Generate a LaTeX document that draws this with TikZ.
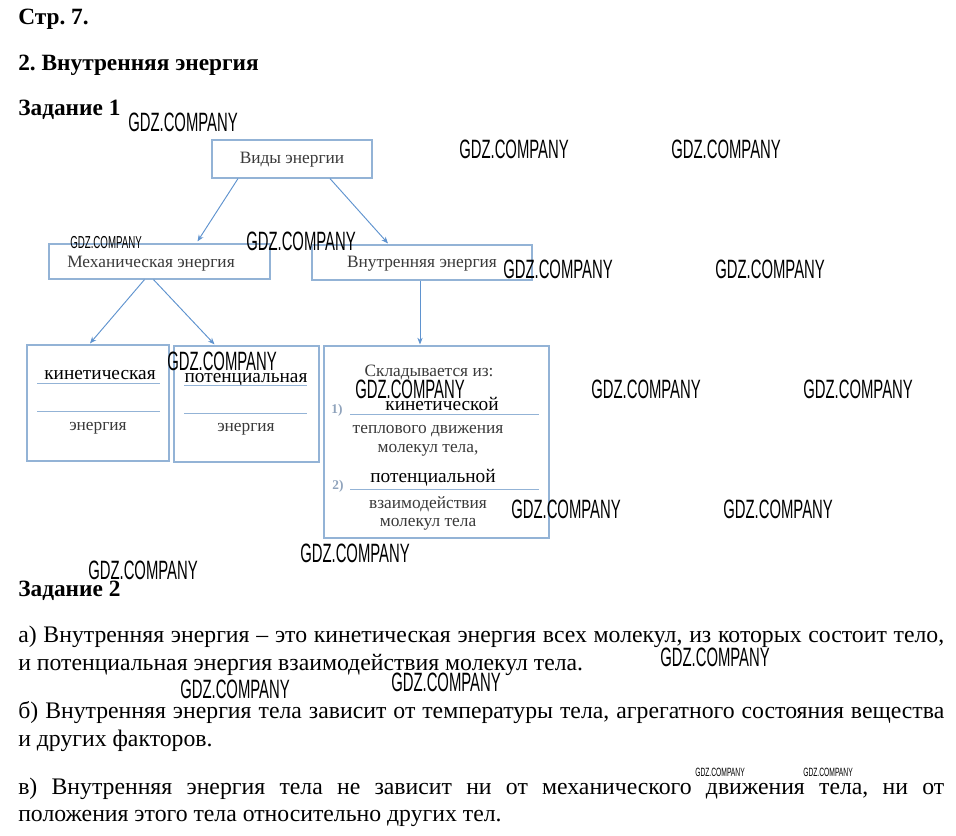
\documentclass[tikz,border=0pt]{standalone}
\usepackage{fontspec}
\setmainfont{Liberation Serif}
\newfontfamily\wmfam[FakeStretch=0.56]{Liberation Sans}
\usetikzlibrary{arrows.meta,calc,fit}
\definecolor{boxc}{HTML}{93B3D6}
\definecolor{arrc}{HTML}{5F93CF}
\definecolor{dgray}{HTML}{3A3A3A}
\definecolor{numc}{HTML}{8FA3BC}
\frenchspacing
\newcommand\jline[1]{\hbox to 694.5pt{#1}}
\tikzset{
  box/.style={draw=boxc, line width=0.9pt, inner sep=0pt},
  uline/.style={draw=boxc, line width=0.6pt},
  dtext/.style={font=\fontsize{13}{15}\selectfont, text=dgray, inner sep=0pt, anchor=base},
  atext/.style={font=\fontsize{14.5}{16}\selectfont, text=black, inner sep=0pt, anchor=base},
  numtext/.style={font=\fontsize{10}{12}\selectfont\bfseries, text=numc, inner sep=0pt, anchor=base},
  arr/.style={draw=arrc, line width=0.7pt, -{Stealth[length=5pt,width=4pt]}},
  head/.style={font=\fontsize{17.5}{19}\selectfont\bfseries, text=black, inner sep=0pt, anchor=base west},
  body/.style={font=\fontsize{17.8}{21}\selectfont, text=black, inner sep=0pt, anchor=base west},
  wmbig/.style={font=\wmfam\fontsize{19.9}{20}\selectfont, inner sep=0pt, anchor=north west},
  wmsmall/.style={font=\wmfam\fontsize{13}{14}\selectfont, inner sep=0pt, anchor=north west},
  wmtiny/.style={font=\wmfam\fontsize{9}{10}\selectfont, inner sep=0pt, anchor=north west},
}
\begin{document}
\begin{tikzpicture}[x=0.75pt,y=-0.75pt]
\fill[white] (0,0) rectangle (956,835);
\useasboundingbox (0,0) rectangle (956,835);

% headings
\node[head] (h1) at (18,24) {Стр. 7.};
\node[head] (h2) at (18,70) {2. Внутренняя энергия};
\node[head] (h3) at (18,115) {Задание 1};
\node[head] (h4) at (18,596) {Задание 2};

% boxes
\node[box, fit={(212,140) (372,178)}] (vid) {};
\node[box, fit={(49,244) (270,279)}] (mech) {};
\node[box, fit={(312,245) (532,280)}] (vnut) {};
\node[box, fit={(27,345) (169,461)}] (kin) {};
\node[box, fit={(174,346) (319,462)}] (pot) {};
\node[box, fit={(324,346) (549,538)}] (skl) {};

% box texts
\node[dtext] (tvid) at (292,163) {Виды энергии};
\node[dtext] (tmech) at (151,267) {Механическая энергия};
\node[dtext] (tvnut) at (422,267) {Внутренняя энергия};

\node[atext] (kin1) at (100,379) {кинетическая};
\node[dtext] (kin2) at (98,430) {энергия};
\node[atext] (pot1) at (246,382) {потенциальная};
\node[dtext] (pot2) at (246,431) {энергия};

\node[dtext] (s0) at (429,376) {Складывается из:};
\node[numtext] (n1) at (337,413) {1)};
\node[atext] (s1) at (442,410) {кинетической};
\node[dtext] (s2) at (428,433) {теплового движения};
\node[dtext] (s3) at (428,452) {молекул тела,};
\node[numtext] (n2) at (338,489) {2)};
\node[atext] (s4) at (433,482) {потенциальной};
\node[dtext] (s5) at (428,508) {взаимодействия};
\node[dtext] (s6) at (428,526) {молекул тела};

% answer lines
\coordinate (k1a) at (37,383); \coordinate (k1b) at (160,383);
\coordinate (k2a) at (37,411); \coordinate (k2b) at (160,411);
\coordinate (p1a) at (184,385); \coordinate (p1b) at (307,385);
\coordinate (p2a) at (184,413); \coordinate (p2b) at (307,413);
\coordinate (l1a) at (350,414); \coordinate (l1b) at (539,414);
\coordinate (l2a) at (350,489); \coordinate (l2b) at (539,489);
\draw[uline] (k1a) -- (k1b);
\draw[uline] (k2a) -- (k2b);
\draw[uline] (p1a) -- (p1b);
\draw[uline] (p2a) -- (p2b);
\draw[uline] (l1a) -- (l1b);
\draw[uline] (l2a) -- (l2b);

% arrows
\draw[arr] ($(vid.south)+(-54,0)$) -- ($(mech.north)+(38,-2)$);
\draw[arr] ($(vid.south)+(38,0)$) -- ($(vnut.north)+(-34,-1)$);
\draw[arr] ($(mech.south)+(-15,0)$) -- ($(kin.north)+(-8,-1)$);
\draw[arr] ($(mech.south)+(-6,0)$) -- ($(pot.north)+(-32,-1)$);
\draw[arr] ($(vnut.south)+(-2,0)$) -- ($(skl.north)+(-16.5,-1)$);

% body text
\node[body] (a1) at (18,642) {\jline{а) Внутренняя энергия – это кинетическая энергия всех молекул, из которых состоит тело,}};
\node[body] (a2) at (18,670) {и потенциальная энергия взаимодействия молекул тела.};
\node[body] (b1) at (18,718) {\jline{б) Внутренняя энергия тела зависит от температуры тела, агрегатного состояния вещества}};
\node[body] (b2) at (18,746) {и других факторов.};
\node[body] (c1) at (18,794) {\jline{в) Внутренняя энергия тела не зависит ни от механического движения тела, ни от}};
\node[body] (c2) at (18,821) {положения этого тела относительно других тел.};

% watermarks
\node[wmbig] (wm1) at (128,113) {GDZ.COMPANY};
\node[wmbig] (wm2) at (459,140) {GDZ.COMPANY};
\node[wmbig] (wm3) at (671,140) {GDZ.COMPANY};
\node[wmsmall] (wm4) at (70,236) {GDZ.COMPANY};
\node[wmbig] (wm5) at (246,232) {GDZ.COMPANY};
\node[wmbig] (wm6) at (503,260) {GDZ.COMPANY};
\node[wmbig] (wm7) at (715,260) {GDZ.COMPANY};
\node[wmbig] (wm8) at (167,352) {GDZ.COMPANY};
\node[wmbig] (wm9) at (355,380) {GDZ.COMPANY};
\node[wmbig] (wm10) at (591,380) {GDZ.COMPANY};
\node[wmbig] (wm11) at (803,380) {GDZ.COMPANY};
\node[wmbig] (wm12) at (511,500) {GDZ.COMPANY};
\node[wmbig] (wm13) at (723,500) {GDZ.COMPANY};
\node[wmbig] (wm14) at (300,544) {GDZ.COMPANY};
\node[wmbig] (wm15) at (88,561) {GDZ.COMPANY};
\node[wmbig] (wm16) at (660,648) {GDZ.COMPANY};
\node[wmbig] (wm17) at (180,680) {GDZ.COMPANY};
\node[wmbig] (wm18) at (391,673) {GDZ.COMPANY};
\node[wmtiny] (wm19) at (695,768) {GDZ.COMPANY};
\node[wmtiny] (wm20) at (803,768) {GDZ.COMPANY};
\end{tikzpicture}
\end{document}
